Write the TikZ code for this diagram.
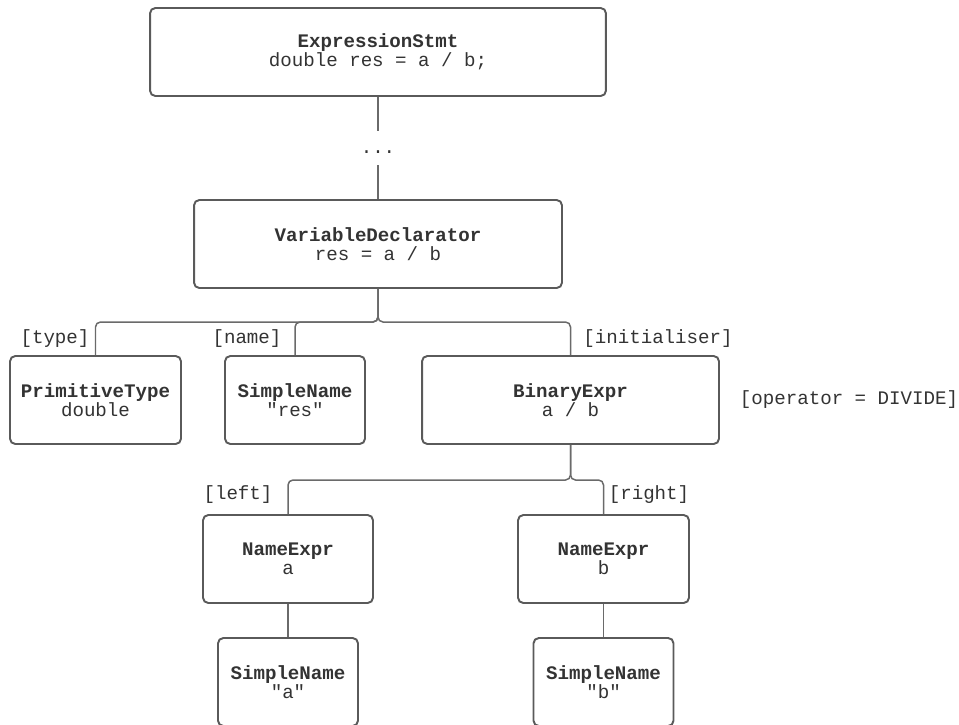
\documentclass[tikz,border=0pt]{standalone}
\usepackage{fontspec}
\setmonofont{Liberation Mono}
\usepackage{tikz}
\usepackage{xcolor}
\usetikzlibrary{shapes, positioning}

\definecolor{boxgray}{HTML}{5A5A5A}
\definecolor{linegray}{HTML}{6A6A6A}
\definecolor{txtgray}{HTML}{333333}

\tikzset{
    astnode/.style={draw=boxgray, line width=1.1pt, rounded corners=3pt, fill=white,
        align=center, text=txtgray, minimum height=1.76cm,
        font=\ttfamily\fontsize{10.9}{10.9}\selectfont},
    role/.style={text=txtgray, inner sep=0pt, font=\ttfamily\fontsize{10.9}{10.9}\selectfont},
    link/.style={draw=linegray, line width=0.85pt, rounded corners=0.1cm}
}

\begin{document}
\begin{tikzpicture}[x=0.02cm, y=-0.02cm]
        \useasboundingbox (0,0) rectangle (959,724);
        \clip (0,0) rectangle (959,724);

        \node[astnode, minimum width=9.12cm] (stmt) at (378,52) {\textbf{ExpressionStmt}\\double res = a / b;};
        \node[role, minimum height=0.68cm, text height=0.2cm, text depth=0cm] (dots) at (378,148) {...};
        \node[astnode, minimum width=7.36cm] (decl) at (378,244) {\textbf{VariableDeclarator}\\res = a / b};

        \node[astnode, minimum width=3.42cm] (ptype) at (95.5,400) {\textbf{PrimitiveType}\\double};
        \node[astnode, minimum width=2.8cm] (sres) at (295,400) {\textbf{SimpleName}\\"res"};
        \node[astnode, minimum width=5.94cm] (binexpr) at (570.5,400) {\textbf{BinaryExpr}\\a / b};

        \node[astnode, minimum width=3.4cm] (namea) at (288,559) {\textbf{NameExpr}\\a};
        \node[astnode, minimum width=3.42cm] (nameb) at (603.5,559) {\textbf{NameExpr}\\b};
        \node[astnode, minimum width=2.8cm] (sa) at (288,682) {\textbf{SimpleName}\\"a"};
        \node[astnode, minimum width=2.8cm] (sb) at (603.5,682) {\textbf{SimpleName}\\"b"};

        \node[role] (ltype) at (55,339) {[type]};
        \node[role] (lname) at (247,339) {[name]};
        \node[role] (linit) at (658,339) {[initialiser]};
        \node[role] (lop) at (849,400) {[operator = DIVIDE]};
        \node[role] (lleft) at (238,495) {[left]};
        \node[role] (lright) at (649,495) {[right]};

        \coordinate (fork1) at (378,322);
        \coordinate (fork2) at (570.5,480);

        \draw[link] (stmt.south) -- (dots.north);
        \draw[link] (dots.south) -- (decl.north);
        \draw[link] (decl.south) -- (fork1) -| (ptype.north);
        \draw[link] (decl.south) -- (fork1) -| (sres.north);
        \draw[link] (decl.south) -- (fork1) -| (binexpr.north);
        \draw[link] (binexpr.south) -- (fork2) -| (namea.north);
        \draw[link] (binexpr.south) -- (fork2) -| (nameb.north);
        \draw[link] (namea.south) -- (sa.north);
        \draw[link] (nameb.south) -- (sb.north);
    \end{tikzpicture}
\end{document}
